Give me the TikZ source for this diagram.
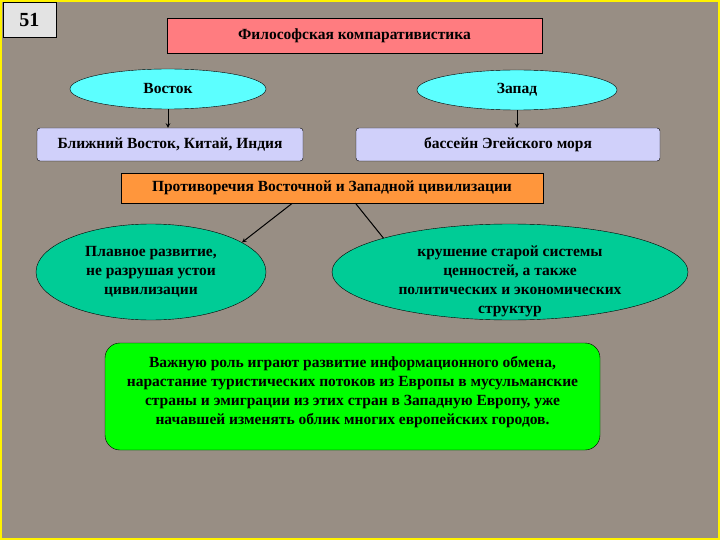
\documentclass[tikz,border=0pt]{standalone}
\usepackage{fontspec}
\setmainfont{Liberation Serif}
\usetikzlibrary{shapes.geometric}
\definecolor{granit}{RGB}{152,142,132}
\definecolor{lachs}{RGB}{255,124,128}
\definecolor{tuerkis}{RGB}{92,255,255}
\definecolor{lila}{RGB}{208,208,250}
\definecolor{orange}{RGB}{255,150,60}
\definecolor{meer}{RGB}{0,204,150}
\definecolor{gruen}{RGB}{0,255,0}
\def\schrift#1{\bfseries\fontsize{#1}{19}\selectfont}

\begin{document}
\begin{tikzpicture}[x=1pt,y=-1pt,
    every node/.style={font=\schrift{15.5}},
    kasten/.style={draw,inner sep=0pt,align=center},
    oval/.style={draw,ellipse,inner sep=0pt,align=center},
    pfeil/.style={->,>=stealth,line width=1pt}]
    % Hintergrund
    \fill[granit] (0,0) rectangle (720,540);
    \draw[yellow,line width=1.5pt] (1,1) rectangle (719,539);
    % Nummer
    \node[kasten,fill=gray!22,minimum width=53,minimum height=35,font=\schrift{20}] (nr) at (29.5,19.5) {51};
    % Titel
    \node[kasten,fill=lachs,minimum width=375,minimum height=35] (titel) at (354.5,35.5) {Философская компаративистика};
    % Osten / Westen
    \node[oval,fill=tuerkis,minimum width=196,minimum height=40] (osten) at (168,89) {Восток};
    \node[oval,fill=tuerkis,minimum width=200,minimum height=40] (westen) at (517,90) {Запад};
    \node[kasten,fill=lila,rounded corners=3pt,minimum width=266,minimum height=33] (nahost) at (170,144.5) {Ближний Восток, Китай, Индия};
    \node[kasten,fill=lila,rounded corners=3pt,minimum width=304,minimum height=33] (aegaeis) at (508,144.5) {бассейн Эгейского моря};
    \draw[pfeil] (osten.south) -- (nahost.north -| osten.south);
    \draw[pfeil] (westen.south) -- (aegaeis.north -| westen.south);
    % Widersprueche
    \node[kasten,fill=orange,minimum width=422,minimum height=30] (gegensatz) at (332,188) {Противоречия Восточной и Западной цивилизации};
    \node[oval,fill=meer,minimum width=230,minimum height=96] (sanft) at (151,272) {Плавное развитие,\\не разрушая устои\\цивилизации};
    \node[oval,fill=meer,minimum width=356,minimum height=96] (zerfall) at (510,272) {};
    \node[align=center] (zerfalltext) at (510,281) {крушение старой системы\\ценностей, а также\\политических и экономических\\структур};
    \draw[pfeil] (gegensatz.201) -- (sanft.18);
    \draw[line width=1pt] (gegensatz.-33) -- (zerfall.165);
    % Austausch
    \node[kasten,fill=gruen,rounded corners=15pt,minimum width=495,minimum height=107] (austausch) at (352.5,396.5) {};
    \node[align=center] (austauschtext) at (352.5,392) {Важную роль играют развитие информационного обмена,\\нарастание туристических потоков из Европы в мусульманские\\страны и эмиграции из этих стран в Западную Европу, уже\\начавшей изменять облик многих европейских городов.};
\end{tikzpicture}
\end{document}
